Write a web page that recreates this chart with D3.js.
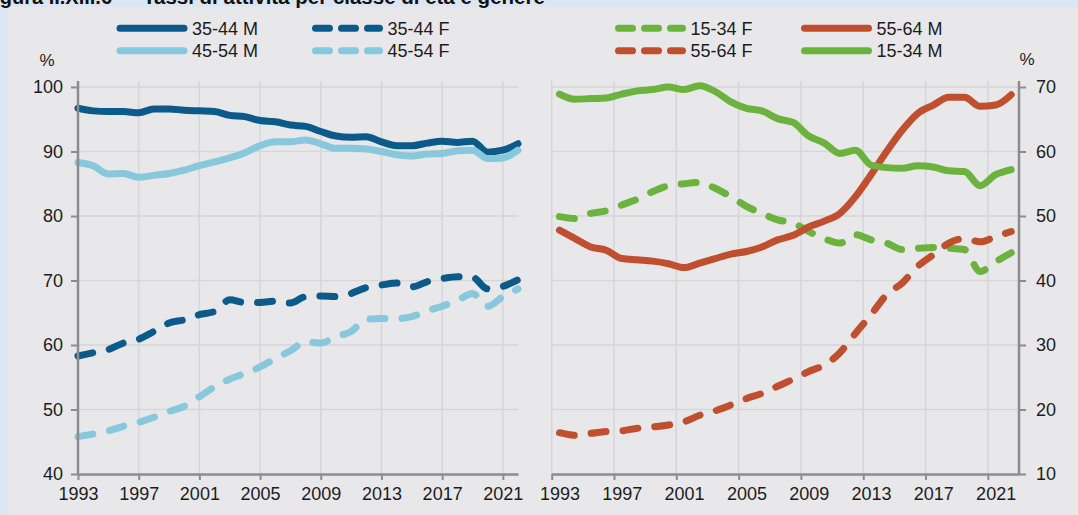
<!DOCTYPE html>
<html>
<head>
<meta charset="utf-8">
<script src="https://cdn.jsdelivr.net/npm/d3@7"></script>
<style>
  html, body { margin: 0; padding: 0; background: #dce5f3; }
  svg { display: block; font-family: "Liberation Sans", Arial, sans-serif; }
</style>
</head>
<body>
<svg id="chart" width="1078" height="515"></svg>
<script>
// Tassi di attività per classe di età e genere, 1993-2022 (%)
const years = [1993,1994,1995,1996,1997,1998,1999,2000,2001,2002,2003,2004,2005,2006,2007,
               2008,2009,2010,2011,2012,2013,2014,2015,2016,2017,2018,2019,2020,2021,2022];

const m3544 = [96.7,96.3,96.2,96.2,96.0,96.6,96.6,96.4,96.3,96.2,95.6,95.4,94.8,94.6,94.1,
               93.9,93.1,92.4,92.2,92.3,91.5,90.9,90.9,91.3,91.6,91.4,91.6,89.9,90.2,91.2];
const f3544 = [58.3,58.8,59.3,60.3,60.9,62.1,63.4,63.9,64.7,65.2,67.0,66.6,66.6,66.8,66.5,
               67.5,67.6,67.5,68.0,68.9,69.3,69.6,69.0,69.8,70.3,70.6,70.5,68.7,69.1,70.1];
const m4554 = [88.3,87.8,86.5,86.6,86.0,86.3,86.6,87.1,87.8,88.4,89.0,89.8,90.9,91.5,91.5,
               91.8,91.2,90.5,90.5,90.4,90.0,89.5,89.3,89.6,89.7,90.1,90.2,88.9,89.0,90.2];
const f4554 = [45.8,46.2,46.7,47.4,48.0,48.8,49.7,50.5,52.0,53.5,54.7,55.6,56.6,57.9,59.1,
               60.5,60.3,61.3,62.1,64.0,64.1,64.1,64.4,65.3,66.0,66.9,68.0,66.0,67.5,68.7];

const m1534 = [68.9,68.1,68.2,68.3,68.9,69.4,69.6,70.0,69.6,70.2,69.3,67.7,66.7,66.3,65.1,
               64.5,62.4,61.3,59.7,60.2,57.9,57.5,57.4,57.8,57.6,57.0,56.9,54.7,56.4,57.2];
const f1534 = [49.9,49.6,50.4,50.8,51.7,52.6,53.8,54.7,55.0,55.2,54.3,53.0,51.5,50.4,49.4,
               48.9,47.6,46.5,45.8,47.1,46.3,45.8,44.8,45.0,45.1,45.0,44.8,41.4,42.9,44.3];
const m5564 = [47.8,46.5,45.2,44.7,43.4,43.2,43.0,42.6,42.0,42.7,43.4,44.1,44.5,45.2,46.3,
               47.0,48.3,49.2,50.4,53.0,56.4,60.0,63.3,65.9,67.2,68.4,68.4,67.0,67.2,68.8];
const f5564 = [16.4,16.0,16.3,16.6,16.7,17.1,17.3,17.6,18.1,19.1,19.8,20.7,21.7,22.5,23.6,
               24.7,25.9,26.9,28.8,31.8,34.7,37.8,39.6,42.2,44.0,45.8,46.5,46.0,46.8,47.6];

const xTickYears = [1993,1997,2001,2005,2009,2013,2017,2021];
const leftTicks  = [40,50,60,70,80,90,100];
const rightTicks = [10,20,30,40,50,60,70];

const title = "Figura II.XIII.6";
const subtitle = "Tassi di attività per classe di età e genere";

const C = {
  dark:  "#0c5a8a",
  light: "#87c8dc",
  green: "#6bb33e",
  red:   "#bf4f2e",
  grid:  "#d6d6d9",
  axis:  "#8c8c8c",
  text:  "#1c1c1c",
  panel: "#e8e8ea"
};

const leftSeries = [
  { name: "35-44 M", values: m3544, color: C.dark,  dashed: false },
  { name: "45-54 M", values: m4554, color: C.light, dashed: false },
  { name: "35-44 F", values: f3544, color: C.dark,  dashed: true  },
  { name: "45-54 F", values: f4554, color: C.light, dashed: true  }
];
const rightSeries = [
  { name: "15-34 F", values: f1534, color: C.green, dashed: true  },
  { name: "55-64 F", values: f5564, color: C.red,   dashed: true  },
  { name: "55-64 M", values: m5564, color: C.red,   dashed: false },
  { name: "15-34 M", values: m1534, color: C.green, dashed: false }
];

const svg = d3.select("#chart");

// panel background; the caption sits above it, at the very top edge
svg.append("rect").attr("x", 8).attr("y", 7).attr("width", 1070).attr("height", 508)
  .attr("fill", C.panel);
svg.append("text").attr("x", -18).attr("y", 4).attr("font-size", 20).attr("font-weight", "bold")
  .attr("fill", "#111").text(title);
svg.append("text").attr("x", 143).attr("y", 4).attr("font-size", 20.5).attr("font-weight", "bold")
  .attr("fill", "#111").text(subtitle);

const plotTop = 87, plotBottom = 474, gridTop = 81;
const LW = 7;
const plotDash = "15,17";
const legendDash = "14,12";

// ---------- left panel: 35-54 ----------
const xL = d3.scaleLinear().domain([1993, 2022]).range([78, 518]);
const yL = d3.scaleLinear().domain([40, 100]).range([plotBottom, plotTop]);

const gL = svg.append("g");
gL.selectAll("line.hg").data(leftTicks.filter(t => t > 40)).join("line")
  .attr("x1", xL(1993)).attr("x2", xL(2022))
  .attr("y1", d => yL(d)).attr("y2", d => yL(d))
  .attr("stroke", C.grid).attr("stroke-width", 1.5);
gL.selectAll("line.vg").data(xTickYears.filter(t => t > 1993)).join("line")
  .attr("x1", d => xL(d)).attr("x2", d => xL(d))
  .attr("y1", gridTop).attr("y2", plotBottom)
  .attr("stroke", C.grid).attr("stroke-width", 1.5);

const lineL = d3.line().x((d, i) => xL(years[i])).y(d => yL(d)).curve(d3.curveMonotoneX);
gL.selectAll("path.series").data(leftSeries).join("path")
  .attr("d", d => lineL(d.values))
  .attr("fill", "none").attr("stroke", d => d.color).attr("stroke-width", LW)
  .attr("stroke-linecap", "round").attr("stroke-linejoin", "round")
  .attr("stroke-dasharray", d => d.dashed ? plotDash : null);

// left axis
const axL = gL.append("g").attr("transform", `translate(${xL(1993)},0)`)
  .call(d3.axisLeft(yL).tickValues(leftTicks).tickSize(7).tickSizeOuter(0).tickPadding(8));
axL.select(".domain").attr("d", `M0,${gridTop}V${plotBottom}`);
// bottom axis
gL.append("g").attr("transform", `translate(0,${plotBottom})`)
  .call(d3.axisBottom(xL).tickValues(xTickYears).tickFormat(d3.format("d"))
        .tickSize(6).tickSizeOuter(0).tickPadding(7));

// ---------- right panel: 15-34 and 55-64 ----------
// categories are placed at the middle of each year slot
const xR = d3.scaleLinear().domain([1993, 2023]).range([551.7, 1019]);
const yR = d3.scaleLinear().domain([10, 70]).range([plotBottom, plotTop]);

const gR = svg.append("g");
gR.selectAll("line.hg").data(rightTicks.filter(t => t > 10)).join("line")
  .attr("x1", xR(1993)).attr("x2", xR(2023))
  .attr("y1", d => yR(d)).attr("y2", d => yR(d))
  .attr("stroke", C.grid).attr("stroke-width", 1.5);
gR.selectAll("line.vg").data(xTickYears).join("line")
  .attr("x1", d => xR(d)).attr("x2", d => xR(d))
  .attr("y1", gridTop).attr("y2", plotBottom)
  .attr("stroke", C.grid).attr("stroke-width", 1.5);

const lineR = d3.line().x((d, i) => xR(years[i] + 0.5)).y(d => yR(d)).curve(d3.curveMonotoneX);
gR.selectAll("path.series").data(rightSeries).join("path")
  .attr("d", d => lineR(d.values))
  .attr("fill", "none").attr("stroke", d => d.color).attr("stroke-width", LW)
  .attr("stroke-linecap", "round").attr("stroke-linejoin", "round")
  .attr("stroke-dasharray", d => d.dashed ? plotDash : null);

const axR = gR.append("g").attr("transform", `translate(${xR(2023)},0)`)
  .call(d3.axisRight(yR).tickValues(rightTicks).tickSize(7).tickSizeOuter(0).tickPadding(10));
axR.select(".domain").attr("d", `M0,${gridTop}V${plotBottom}`);
// tick marks at slot boundaries
gR.append("g").attr("transform", `translate(0,${plotBottom})`)
  .call(d3.axisBottom(xR).tickValues(xTickYears).tickFormat("").tickSize(6).tickSizeOuter(0));
// labels centred on each slot
const axRL = gR.append("g").attr("transform", `translate(0,${plotBottom})`)
  .call(d3.axisBottom(xR).tickValues(xTickYears.map(y => y + 0.5))
        .tickFormat(d => String(Math.floor(d))).tickSize(0).tickPadding(13));
axRL.select(".domain").remove();

// shared axis styling
svg.selectAll(".domain").attr("stroke", C.axis).attr("stroke-width", 2.5);
svg.selectAll(".tick line").attr("stroke", C.axis).attr("stroke-width", 2);
svg.selectAll(".tick text").attr("font-size", 18).attr("fill", C.text)
  .attr("font-family", "'Liberation Sans', Arial, sans-serif");

// unit labels
svg.append("text").attr("x", 47).attr("y", 66).attr("text-anchor", "middle")
  .attr("font-size", 17).attr("fill", C.text).text("%");
svg.append("text").attr("x", 1027).attr("y", 65).attr("text-anchor", "middle")
  .attr("font-size", 17).attr("fill", C.text).text("%");

// ---------- legends ----------
const legendItems = [
  { s: leftSeries[0],  x: 120, row: 0 },
  { s: leftSeries[1],  x: 120, row: 1 },
  { s: leftSeries[2],  x: 315.5, row: 0 },
  { s: leftSeries[3],  x: 315.5, row: 1 },
  { s: rightSeries[0], x: 618.5, row: 0 },
  { s: rightSeries[1], x: 618.5, row: 1 },
  { s: rightSeries[2], x: 804.5, row: 0 },
  { s: rightSeries[3], x: 804.5, row: 1 }
];
const rowY = [28.3, 50.7];
const lg = svg.append("g").selectAll("g").data(legendItems).join("g")
  .attr("transform", d => `translate(${d.x},${rowY[d.row]})`);
lg.append("line").attr("x1", 0).attr("x2", 64).attr("y1", 0).attr("y2", 0)
  .attr("stroke", d => d.s.color).attr("stroke-width", LW).attr("stroke-linecap", "round")
  .attr("stroke-dasharray", d => d.s.dashed ? legendDash : null);
lg.append("text").attr("x", 72).attr("y", 6.3).attr("font-size", 18).attr("fill", C.text)
  .text(d => d.s.name);
</script>
</body>
</html>
